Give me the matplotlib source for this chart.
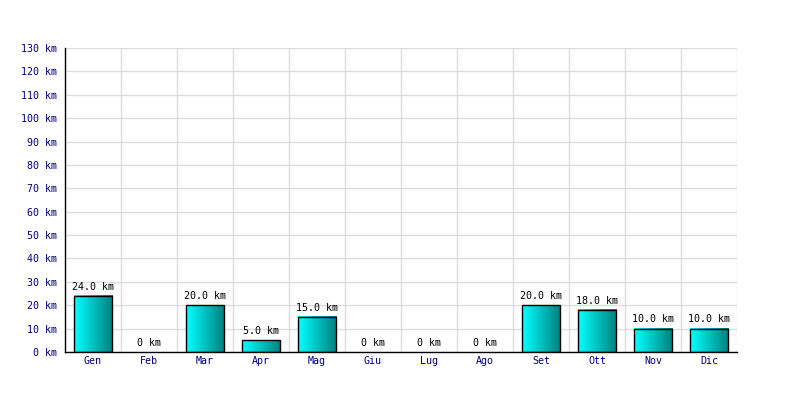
import matplotlib
matplotlib.use("Agg")
import matplotlib.pyplot as plt
import numpy as np
from matplotlib.colors import LinearSegmentedColormap

months = ["Gen", "Feb", "Mar", "Apr", "Mag", "Giu", "Lug", "Ago", "Set", "Ott", "Nov", "Dic"]
values = [24.0, 0, 20.0, 5.0, 15.0, 0, 0, 0, 20.0, 18.0, 10.0, 10.0]
yticks = list(range(0, 131, 10))

fig = plt.figure(figsize=(8, 4), dpi=100)
ax = fig.add_axes([65/800, 48/400, 672/800, 304/400])

font = dict(family="DejaVu Sans Mono", size=7.2)
cmap = LinearSegmentedColormap.from_list("cy", ["#00ffff", "#008080"])
grad = np.linspace(0, 1, 64).reshape(1, -1)

n = len(months)
w = 0.68
for i, v in enumerate(values):
    if v > 0:
        ax.imshow(grad, cmap=cmap, aspect="auto", extent=(i - w/2, i + w/2, 0, v), zorder=2)
        ax.add_patch(plt.Rectangle((i - w/2, 0), w, v, fill=False, edgecolor="black", lw=1, zorder=3))
    label = "0 km" if v == 0 else f"{v:.1f} km"
    ax.annotate(label, (i, v), xytext=(0, 3), textcoords="offset points", ha="center", va="bottom",
                color="black", **font)

ax.set_xlim(-0.5, n - 0.5)
ax.set_ylim(0, 130)
ax.set_yticks(yticks)
ax.set_yticklabels([f"{t} km" for t in yticks], color="#000080", **font)
ax.set_xticks(range(n))
ax.set_xticklabels(months, color="#000080", **font)
ax.set_xticks(np.arange(-0.5, n, 1), minor=True)
ax.grid(True, axis="y", color="#dddddd", lw=1, zorder=0)
ax.grid(True, axis="x", which="minor", color="#dddddd", lw=1, zorder=0)
ax.tick_params(axis="both", which="both", length=0)
ax.tick_params(axis="y", pad=6)
ax.tick_params(axis="x", pad=3)
for s in ["top", "right"]:
    ax.spines[s].set_visible(False)
for s in ["left", "bottom"]:
    ax.spines[s].set_color("black")
    ax.spines[s].set_linewidth(1)
ax.set_axisbelow(True)

fig.savefig("out.png", dpi=100)
